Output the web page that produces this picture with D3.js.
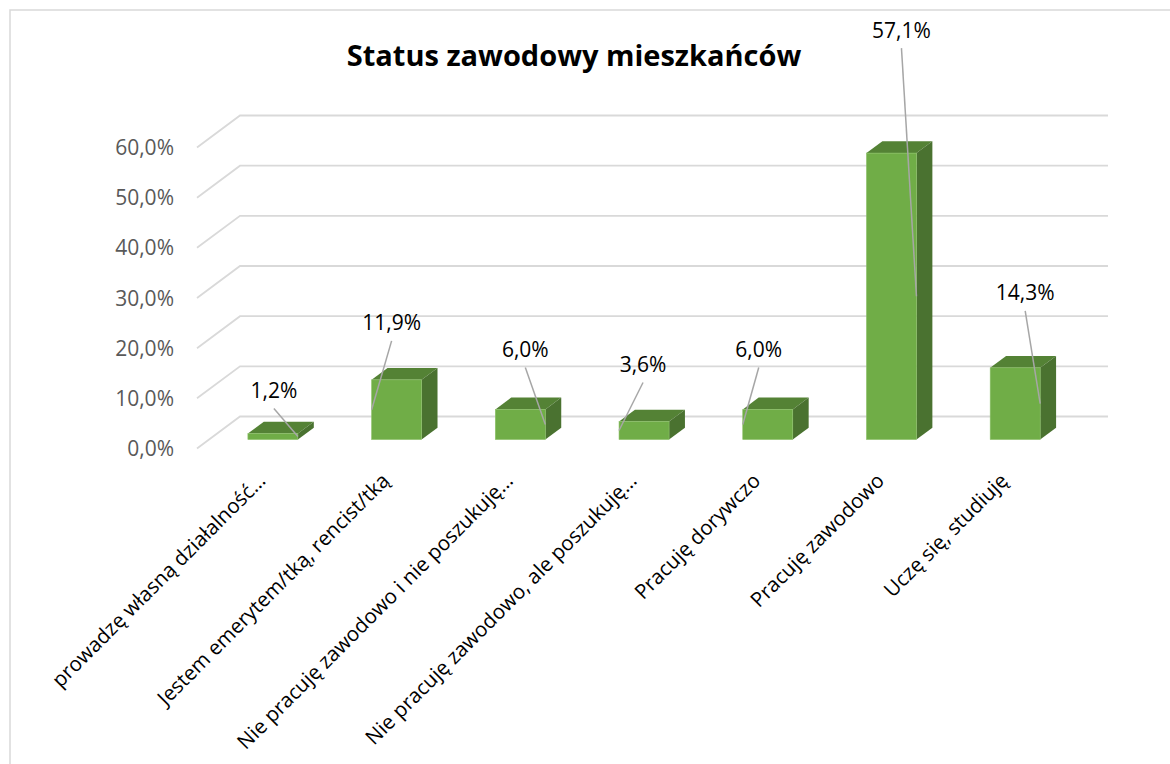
<!DOCTYPE html>
<html>
<head>
<meta charset="utf-8">
<script src="https://cdn.jsdelivr.net/npm/d3@7"></script>
<style>
  body { margin: 0; background: #fff; }
  svg { display: block; font-family: "Open Sans", sans-serif; }
</style>
</head>
<body>
<svg width="1170" height="764"></svg>
<script>
// data
const categories = [
  "prowadzę własną działalność…",
  "Jestem emerytem/tką, rencist/tką",
  "Nie pracuję zawodowo i nie poszukuję…",
  "Nie pracuję zawodowo, ale poszukuję…",
  "Pracuję dorywczo",
  "Pracuję zawodowo",
  "Uczę się, studiuję"
];
const values = [1.2, 11.9, 6.0, 3.6, 6.0, 57.1, 14.3];
const yTicks = [0, 10, 20, 30, 40, 50, 60];
const title = "Status zawodowy mieszkańców";

// label placement: [dx, dy] from bar top centre, side the leader hits (-1 left, 1 right)
const labelNudge = [[1, -43, 1], [-5, -57, -1], [5, -60, 1], [-1, -57, -1], [-9, -60, -1], [10, -123, 1], [10, -75, 1]];

const svg = d3.select("svg");
const fmt = v => d3.format(".1f")(v).replace(".", ",") + "%";

// chart border (only top/left visible in the frame)
svg.append("rect")
  .attr("x", 10).attr("y", 10).attr("width", 1200).attr("height", 800)
  .attr("fill", "none").attr("stroke", "#d9d9d9").attr("stroke-width", 1.5);

// 3d depth: d = 0 front of floor, d = 1 back wall
const depth = {dx: 43, dy: -32};
const proj = (x, y, d) => [x + depth.dx * d, y + depth.dy * d];

const x = d3.scaleBand().domain(categories).range([199, 1065]);
const y = d3.scaleLinear().domain([0, 60]).range([448.5, 147.5]);

const barFront = 0.28, barBack = 0.65;
const barW = 50;

// gridlines: side wall diagonal + back wall
const grid = svg.append("g").attr("stroke", "#d9d9d9").attr("stroke-width", 1.8).attr("fill", "none");
yTicks.forEach(t => {
  const a = proj(197, y(t), 0), b = proj(197, y(t), 1), c = proj(1065, y(t), 1);
  grid.append("polyline").attr("points", [a, b, c].map(p => p.join(",")).join(" "));
});

// y axis labels
svg.append("g").selectAll("text").data(yTicks).enter().append("text")
  .attr("x", 174).attr("y", d => y(d))
  .attr("dy", "0.36em")
  .attr("text-anchor", "end")
  .attr("fill", "#595959")
  .attr("font-size", 21)
  .text(d => fmt(d));

// bars
const bars = svg.append("g").selectAll("g").data(values).enter().append("g");
const cx = (d, i) => x(categories[i]) + x.bandwidth() / 2 + depth.dx * barFront;
const base = y(0) + depth.dy * barFront;
const barTop = v => y(v) + depth.dy * barFront;
const ddx = depth.dx * (barBack - barFront), ddy = depth.dy * (barBack - barFront);

bars.append("polygon") // top face
  .attr("fill", "#548235")
  .attr("points", (d, i) => {
    const l = cx(d, i) - barW / 2, r = l + barW, t = barTop(d);
    return [[l, t], [r, t], [r + ddx, t + ddy], [l + ddx, t + ddy]].map(p => p.join(",")).join(" ");
  });
bars.append("polygon") // side face
  .attr("fill", "#4a7230")
  .attr("points", (d, i) => {
    const r = cx(d, i) + barW / 2, t = barTop(d);
    return [[r, t], [r + ddx, t + ddy], [r + ddx, base + ddy], [r, base]].map(p => p.join(",")).join(" ");
  });
bars.append("rect") // front face
  .attr("fill", "#70ad47")
  .attr("stroke", "#8cc068").attr("stroke-width", 0.6)
  .attr("x", (d, i) => cx(d, i) - barW / 2)
  .attr("y", d => barTop(d))
  .attr("width", barW)
  .attr("height", d => base - barTop(d));

// data labels with leader lines
const labels = svg.append("g").selectAll("g").data(values).enter().append("g");
labels.append("line")
  .attr("stroke", "#a6a6a6").attr("stroke-width", 1.5)
  .attr("x1", (d, i) => cx(d, i) + labelNudge[i][0])
  .attr("y1", (d, i) => barTop(d) + labelNudge[i][1] + 18)
  .attr("x2", (d, i) => cx(d, i) + labelNudge[i][2] * barW / 2)
  .attr("y2", d => (barTop(d) + base) / 2);
labels.append("text")
  .attr("x", (d, i) => cx(d, i) + labelNudge[i][0])
  .attr("y", (d, i) => barTop(d) + labelNudge[i][1])
  .attr("dy", "0.36em")
  .attr("text-anchor", "middle")
  .attr("fill", "#000")
  .attr("font-size", 21)
  .text(d => fmt(d));

// category labels
svg.append("g").selectAll("text").data(categories).enter().append("text")
  .attr("transform", d => "translate(" + (x(d) + x.bandwidth() / 2 + 6) + ",482) rotate(-45)")
  .attr("text-anchor", "end")
  .attr("fill", "#000")
  .attr("font-size", 20.5)
  .text(d => d);

// title
svg.append("text")
  .attr("x", 574).attr("y", 66)
  .attr("text-anchor", "middle")
  .attr("font-weight", "bold")
  .attr("font-size", 29)
  .attr("fill", "#000")
  .text(title);
</script>
</body>
</html>
